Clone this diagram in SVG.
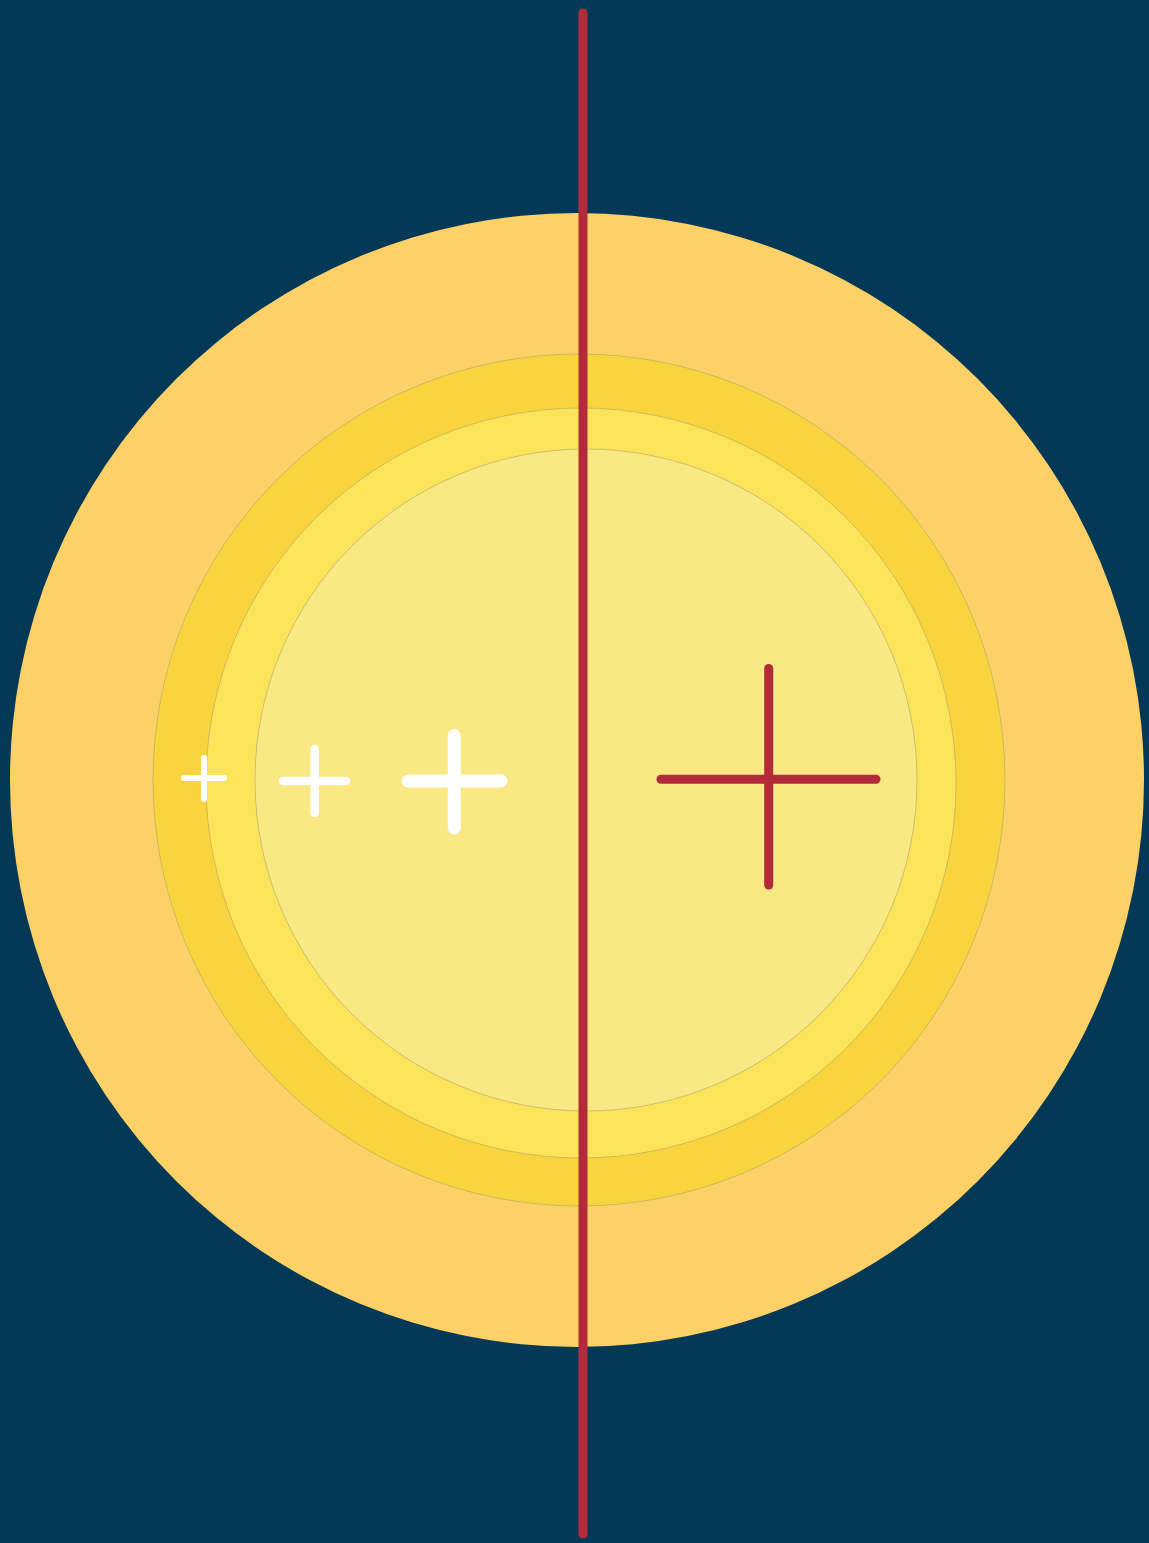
<svg xmlns="http://www.w3.org/2000/svg" width="1149" height="1543" viewBox="0 0 1149 1543">
<style>
.ring{stroke:#a9a66a;stroke-width:0.6}
.w{stroke:#ffffff;stroke-linecap:round;fill:none}
.r{stroke:#b32a3b;stroke-linecap:round;fill:none;stroke-width:9}
</style>
<rect width="1149" height="1543" fill="#033856"/>
<g id="layers">
<circle id="outer" cx="577" cy="780" r="567" fill="#fdd167"/>
<circle id="layer2" class="ring" cx="579" cy="780" r="426" fill="#fad43c"/>
<circle id="layer3" class="ring" cx="581" cy="783" r="375" fill="#fbe45a"/>
<circle id="core" class="ring" cx="586" cy="780" r="331" fill="#f9e883"/>
</g>
<g id="plus-small">
<line class="w" stroke-width="6" x1="184" y1="778" x2="224" y2="778"/>
<line class="w" stroke-width="6" x1="204" y1="758" x2="204" y2="799"/>
</g>
<g id="plus-medium">
<line class="w" stroke-width="8.5" x1="283" y1="781" x2="346" y2="781"/>
<line class="w" stroke-width="8.5" x1="314.7" y1="749" x2="314.7" y2="813"/>
</g>
<g id="plus-large">
<line class="w" stroke-width="13" x1="408" y1="781" x2="501" y2="781"/>
<line class="w" stroke-width="13" x1="454.3" y1="735.5" x2="454.3" y2="828"/>
</g>
<g id="connectors">
<line id="axis" class="r" x1="583" y1="13" x2="583" y2="1534"/>
<line class="r" x1="661" y1="779.3" x2="876" y2="779.3"/>
<line class="r" x1="768.7" y1="668.5" x2="768.7" y2="885"/>
</g>
</svg>
